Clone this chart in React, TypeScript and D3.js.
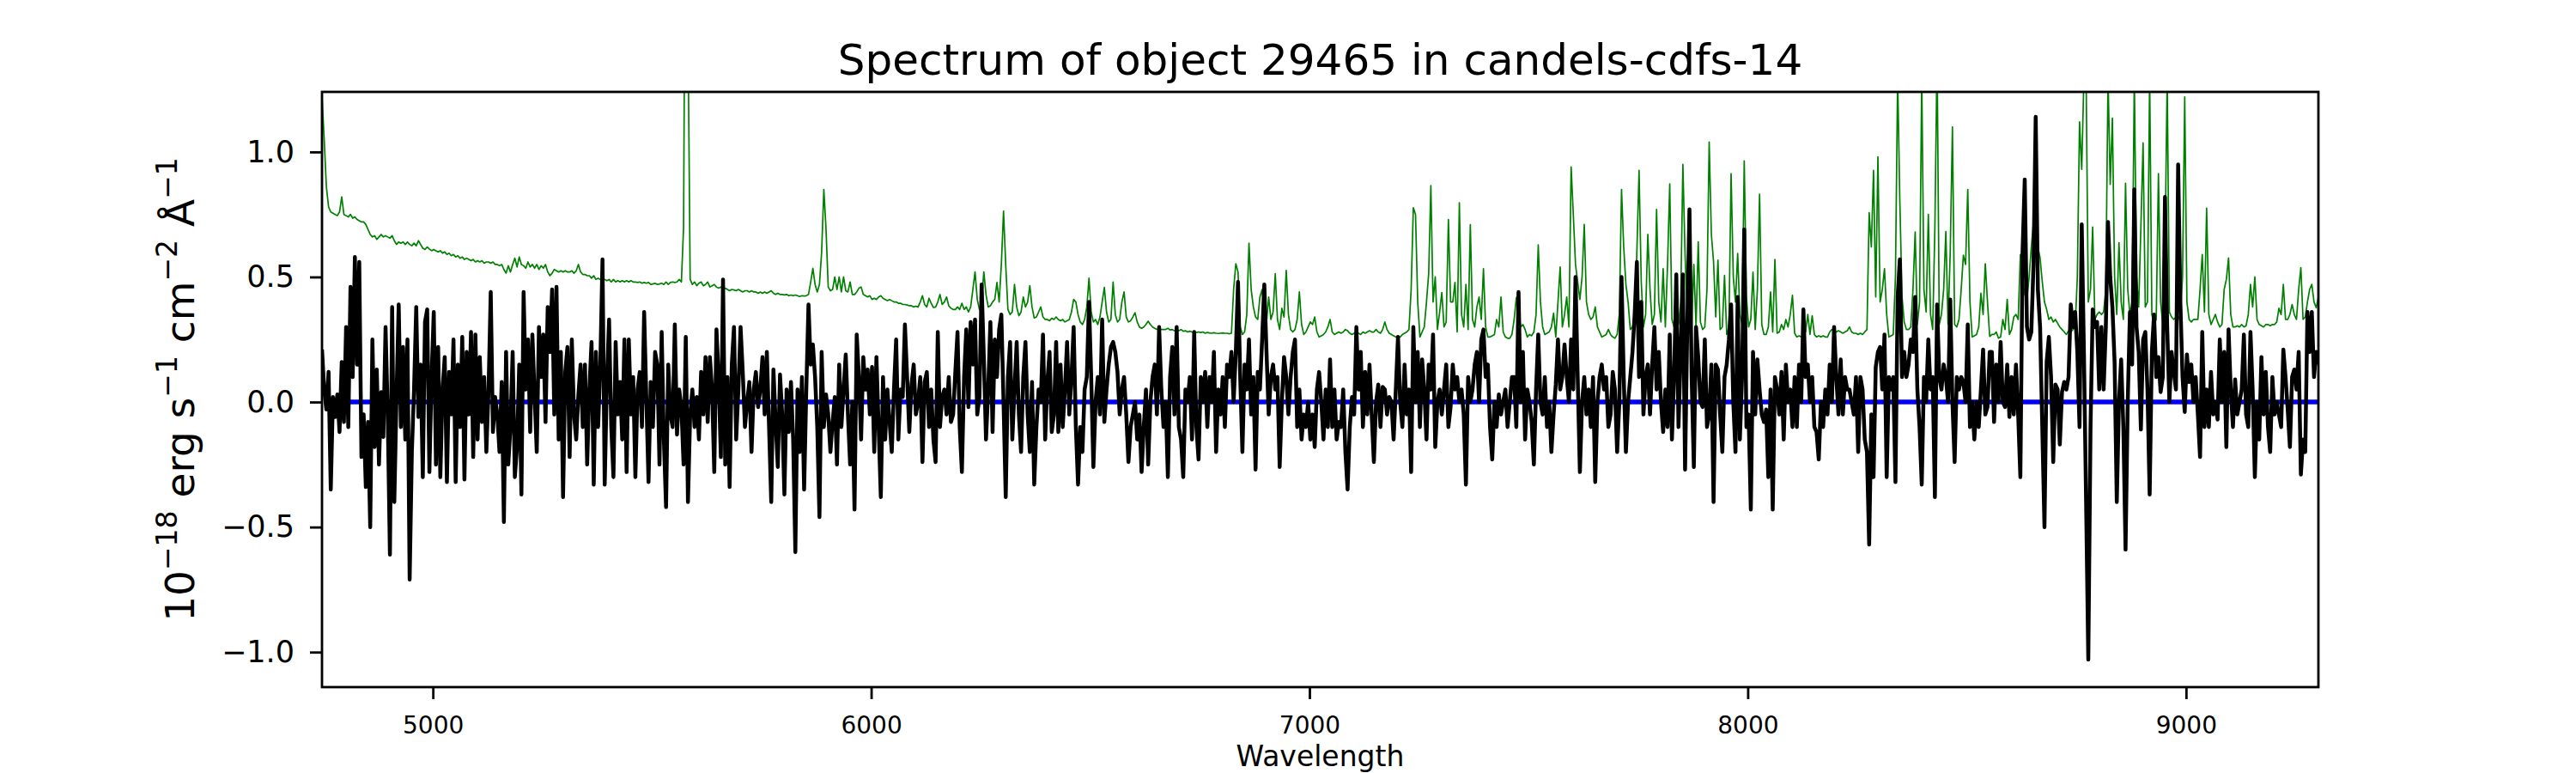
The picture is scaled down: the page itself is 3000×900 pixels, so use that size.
import React, { useEffect, useRef } from 'react';
import * as d3 from 'd3';

const TITLE = 'Spectrum of object 29465 in candels-cdfs-14';
const X_LABEL = 'Wavelength';

// spectra are stored in 100 A blocks, one value every 5 A
const WAVE_START = 4747;
const BLOCK_WIDTH = 100;
const WAVE_STEP = 5;

const xTicks = [5000, 6000, 7000, 8000, 9000];
const yTicks = [-1.0, -0.5, 0.0, 0.5, 1.0];
const xDomain = [4747, 9302];
const yDomain = [-1.14, 1.24];

// model (blue) spectrum: flat at zero
const modelWave = [4770, 9310];
const modelFlux = [0, 0];

// observed flux (black)
const fluxBlocks = [
  [0.21, 0.05, -0.03, 0.12, -0.35, 0.02, -0.06, 0.03, -0.12, 0.16, -0.08, 0.30, -0.10, 0.46, 0.10, 0.58, 0.15, 0.56, -0.22, -0.05],
  [-0.34, -0.08, -0.50, 0.25, -0.18, 0.13, -0.25, 0.04, -0.14, 0.30, -0.05, -0.61, 0.38, -0.40, 0.02, 0.39, -0.10, 0.22, -0.15, 0.25],
  [-0.71, -0.20, 0.05, 0.38, -0.06, 0.15, -0.30, 0.32, 0.37, -0.28, 0.10, 0.36, -0.25, 0.22, -0.30, 0.05, 0.18, -0.32, 0.12, -0.05],
  [0.25, -0.32, 0.15, -0.10, 0.26, -0.31, 0.20, -0.05, 0.28, -0.22, 0.27, -0.15, 0.18, -0.08, 0.10, -0.20, 0.05, 0.44, -0.12, 0.02],
  [-0.05, -0.20, 0.08, -0.48, 0.20, -0.25, -0.10, 0.20, -0.30, -0.18, 0.15, -0.37, 0.44, 0.05, 0.25, -0.12, 0.27, 0.03, -0.20, 0.30],
  [0.10, 0.27, -0.08, 0.38, 0.20, 0.45, -0.05, 0.46, -0.15, 0.20, -0.38, 0.12, 0.22, -0.22, 0.25, -0.05, -0.15, 0.03, 0.15, -0.10],
  [0.15, -0.25, 0.05, 0.24, -0.33, 0.20, -0.10, 0.15, 0.57, -0.33, 0.08, 0.33, -0.10, -0.30, 0.24, -0.05, 0.08, -0.15, 0.25, -0.28],
  [0.25, -0.05, 0.10, -0.30, 0.05, 0.12, -0.10, 0.36, 0.02, -0.32, 0.08, -0.10, 0.20, 0.15, -0.25, 0.28, -0.15, -0.42, 0.15, -0.05],
  [-0.10, 0.31, -0.13, 0.05, -0.02, -0.25, 0.26, -0.40, -0.05, 0.05, -0.10, 0.02, -0.15, 0.12, -0.05, 0.18, -0.08, 0.18, 0.05, -0.28],
  [0.29, 0.10, -0.22, 0.49, -0.25, 0.10, -0.34, 0.15, 0.30, -0.15, 0.05, 0.30, 0.12, -0.10, 0.00, 0.08, -0.20, 0.05, 0.12, -0.02],
  [0.05, 0.18, -0.05, 0.20, -0.10, -0.40, 0.13, -0.08, -0.26, 0.11, -0.05, -0.37, 0.05, -0.12, 0.08, -0.15, -0.60, 0.05, -0.20, 0.10],
  [-0.35, 0.05, 0.39, 0.15, 0.23, 0.10, -0.10, -0.46, 0.20, -0.10, 0.03, -0.05, -0.20, -0.08, 0.02, -0.25, 0.15, -0.10, 0.05, 0.19],
  [-0.05, -0.25, 0.00, -0.43, 0.27, 0.10, -0.15, 0.18, 0.05, 0.13, -0.05, 0.14, -0.20, 0.18, -0.10, -0.38, 0.10, -0.15, 0.05, -0.08],
  [-0.20, 0.05, 0.25, -0.15, 0.05, 0.02, 0.31, 0.10, -0.12, 0.07, 0.15, -0.05, 0.00, 0.10, -0.24, 0.08, 0.12, -0.10, 0.05, -0.15],
  [-0.24, 0.28, -0.10, 0.02, 0.05, -0.05, 0.10, -0.08, -0.05, 0.12, 0.28, -0.10, -0.28, 0.10, 0.29, -0.02, 0.32, 0.15, 0.33, -0.05],
  [0.02, 0.47, 0.18, -0.15, 0.05, 0.32, -0.12, 0.25, 0.10, 0.29, 0.35, 0.00, -0.38, 0.10, 0.24, -0.15, 0.05, 0.24, -0.05, -0.20],
  [0.10, 0.24, -0.05, -0.20, 0.08, -0.33, -0.10, 0.05, 0.00, 0.27, -0.15, 0.08, 0.20, -0.12, -0.05, 0.24, -0.12, 0.15, -0.10, 0.05],
  [0.24, -0.05, 0.10, 0.30, -0.10, -0.33, -0.10, -0.20, 0.05, 0.10, 0.40, 0.10, -0.26, 0.00, 0.10, -0.05, 0.33, -0.08, 0.05, 0.15],
  [0.22, 0.24, 0.20, 0.12, -0.05, 0.05, 0.10, -0.05, -0.24, -0.10, -0.05, 0.00, -0.15, -0.05, -0.28, -0.10, 0.05, -0.25, 0.00, 0.10],
  [0.15, -0.05, 0.30, 0.05, -0.10, 0.00, -0.30, 0.10, 0.22, -0.05, 0.30, -0.10, -0.15, -0.30, 0.05, 0.00, 0.10, -0.15, 0.28, -0.10],
  [-0.23, 0.10, 0.00, 0.12, -0.10, 0.10, 0.00, 0.20, -0.20, 0.05, -0.05, 0.10, -0.10, 0.15, 0.10, 0.20, 0.00, 0.20, 0.48, 0.10],
  [-0.20, 0.15, 0.05, 0.25, -0.05, 0.10, -0.27, 0.12, 0.05, 0.25, 0.47, 0.20, -0.05, 0.10, 0.15, 0.05, 0.10, -0.26, 0.00, 0.18],
  [0.10, -0.05, 0.10, 0.20, 0.25, -0.10, 0.05, -0.15, -0.05, -0.10, 0.00, -0.15, -0.05, -0.18, 0.05, 0.12, 0.00, -0.15, 0.05, -0.10],
  [0.17, -0.10, 0.05, -0.15, -0.08, -0.10, 0.05, -0.20, -0.35, -0.10, 0.02, -0.05, 0.30, 0.05, 0.20, -0.10, 0.12, -0.05, 0.15, -0.05],
  [-0.24, 0.00, 0.07, -0.10, 0.06, 0.05, -0.05, 0.02, 0.00, -0.15, 0.05, 0.26, 0.00, -0.10, 0.15, -0.05, 0.05, -0.28, 0.30, 0.00],
  [0.20, -0.10, 0.17, 0.05, -0.15, 0.15, 0.05, 0.27, -0.18, 0.00, 0.05, -0.05, 0.05, 0.15, -0.10, -0.02, 0.15, 0.05, 0.10, 0.00],
  [0.05, -0.05, -0.33, 0.10, 0.00, 0.05, 0.15, 0.20, 0.00, 0.25, 0.29, 0.10, 0.15, -0.10, -0.23, 0.00, -0.10, 0.03, -0.05, 0.00],
  [0.05, -0.10, 0.00, 0.10, 0.10, -0.10, 0.44, 0.00, 0.20, -0.15, 0.05, 0.00, -0.08, -0.25, 0.05, 0.27, 0.00, -0.05, 0.10, -0.10],
  [0.00, -0.20, -0.05, 0.07, 0.25, 0.05, 0.10, 0.23, 0.10, 0.00, 0.25, 0.05, 0.50, 0.10, -0.28, 0.00, 0.10, -0.05, 0.05, -0.10],
  [0.10, -0.32, 0.00, 0.10, 0.15, 0.05, 0.10, -0.10, -0.05, 0.12, 0.05, -0.20, 0.00, 0.50, 0.10, -0.20, 0.00, 0.10, 0.20, 0.35],
  [0.56, 0.10, 0.40, -0.05, 0.10, 0.15, -0.05, 0.15, 0.30, 0.05, 0.20, 0.00, -0.12, 0.05, -0.10, 0.27, -0.15, 0.10, 0.51, -0.10],
  [0.20, 0.51, -0.27, 0.30, 0.77, 0.10, -0.26, 0.30, 0.18, 0.00, -0.02, 0.25, -0.10, -0.05, 0.15, -0.40, 0.15, 0.13, -0.05, -0.20],
  [0.10, 0.15, 0.25, 0.39, 0.00, -0.20, 0.42, -0.15, 0.10, 0.69, -0.10, -0.05, -0.43, 0.20, -0.05, 0.17, 0.05, -0.05, -0.08, -0.03],
  [-0.30, 0.05, -0.43, 0.10, 0.05, -0.05, 0.12, -0.15, 0.15, 0.00, 0.05, -0.10, 0.10, -0.10, 0.15, 0.00, 0.37, 0.10, 0.15, 0.00],
  [0.10, -0.10, -0.12, -0.23, 0.00, -0.10, 0.05, -0.05, 0.15, 0.00, 0.30, 0.10, -0.05, 0.17, -0.05, 0.10, 0.05, 0.05, 0.00, -0.05],
  [0.10, -0.20, 0.10, 0.05, -0.15, -0.20, -0.57, -0.05, -0.30, 0.14, 0.20, 0.22, 0.05, 0.27, -0.30, 0.10, 0.05, 0.10, -0.32, 0.42],
  [0.57, 0.10, 0.20, 0.10, 0.15, 0.25, 0.20, 0.42, 0.05, -0.10, -0.33, 0.10, 0.00, 0.25, 0.05, 0.10, -0.38, 0.39, 0.10, 0.05],
  [0.15, 0.10, 0.00, 0.41, 0.00, -0.24, 0.10, 0.05, 0.10, 0.08, 0.00, 0.31, -0.10, 0.00, -0.15, 0.00, -0.10, 0.05, 0.21, -0.05],
  [-0.02, 0.20, 0.20, -0.08, 0.15, 0.00, 0.24, 0.00, -0.02, 0.15, -0.06, 0.10, -0.05, 0.15, -0.05, -0.30, 0.60, 0.89, 0.30, 0.25],
  [0.28, 0.55, 1.14, 0.45, 0.30, -0.10, -0.50, 0.16, 0.26, 0.10, -0.24, 0.07, 0.05, -0.17, 0.04, 0.08, 0.05, 0.10, 0.39, 0.30],
  [0.36, 0.20, -0.10, 0.71, 0.20, -0.40, -1.03, -0.11, 0.37, 0.30, 0.32, 0.05, 0.30, 0.05, 0.30, 0.72, 0.50, 0.38, 0.16, -0.40],
  [0.00, 0.17, -0.10, -0.59, 0.00, 0.36, 0.15, 0.85, 0.30, 0.20, -0.11, 0.25, 0.28, 0.05, -0.37, 0.20, 0.35, 0.10, 0.18, 0.04],
  [0.10, 0.82, 0.30, 0.00, 0.20, 0.12, 0.05, 0.95, 0.40, 0.10, -0.04, 0.19, 0.08, 0.15, 0.00, 0.10, -0.05, -0.22, 0.28, -0.10],
  [0.05, -0.10, 0.12, -0.05, 0.00, -0.07, 0.25, 0.00, 0.20, -0.18, 0.29, 0.05, -0.10, 0.09, -0.05, 0.00, 0.05, 0.27, -0.05, -0.10],
  [0.28, 0.05, -0.30, 0.00, -0.15, 0.18, -0.05, 0.12, -0.10, -0.20, 0.10, -0.05, 0.00, -0.05, -0.10, 0.21, 0.10, -0.03, -0.18, 0.10],
  [0.13, 0.05, 0.20, -0.29, -0.15, -0.20, 0.36, 0.20, 0.36, 0.10, 0.20, 0.15],
];

// noise spectrum (green), with sky lines
const noiseBlocks = [
  [1.22, 1.05, 0.86, 0.78, 0.76, 0.755, 0.75, 0.745, 0.76, 0.82, 0.75, 0.745, 0.74, 0.75, 0.735, 0.74, 0.73, 0.725, 0.72, 0.72],
  [0.71, 0.69, 0.67, 0.66, 0.665, 0.65, 0.66, 0.67, 0.66, 0.665, 0.66, 0.655, 0.665, 0.645, 0.63, 0.64, 0.635, 0.64, 0.63, 0.64],
  [0.63, 0.625, 0.635, 0.625, 0.645, 0.63, 0.615, 0.61, 0.62, 0.612, 0.605, 0.61, 0.605, 0.60, 0.605, 0.595, 0.60, 0.59, 0.595, 0.585],
  [0.59, 0.58, 0.585, 0.575, 0.58, 0.57, 0.575, 0.57, 0.565, 0.57, 0.56, 0.565, 0.56, 0.565, 0.555, 0.56, 0.56, 0.555, 0.56, 0.55],
  [0.55, 0.545, 0.55, 0.53, 0.515, 0.545, 0.52, 0.55, 0.575, 0.54, 0.58, 0.55, 0.545, 0.535, 0.56, 0.54, 0.55, 0.535, 0.55, 0.53],
  [0.545, 0.535, 0.55, 0.52, 0.505, 0.515, 0.53, 0.525, 0.52, 0.525, 0.52, 0.525, 0.52, 0.52, 0.525, 0.515, 0.525, 0.55, 0.52, 0.51],
  [0.51, 0.505, 0.505, 0.495, 0.505, 0.49, 0.495, 0.49, 0.485, 0.49, 0.485, 0.49, 0.48, 0.49, 0.48, 0.485, 0.48, 0.485, 0.48, 0.485],
  [0.48, 0.485, 0.48, 0.48, 0.478, 0.48, 0.475, 0.478, 0.475, 0.478, 0.47, 0.472, 0.475, 0.47, 0.472, 0.475, 0.47, 0.48, 0.47, 0.478],
  [0.48, 0.478, 0.48, 0.49, 0.48, 0.70, 2.50, 1.50, 0.49, 0.47, 0.48, 0.465, 0.475, 0.48, 0.465, 0.47, 0.48, 0.46, 0.465, 0.47],
  [0.46, 0.455, 0.46, 0.45, 0.455, 0.45, 0.445, 0.45, 0.448, 0.445, 0.45, 0.445, 0.44, 0.445, 0.445, 0.44, 0.445, 0.44, 0.44, 0.435],
  [0.44, 0.435, 0.44, 0.435, 0.44, 0.445, 0.435, 0.43, 0.435, 0.43, 0.43, 0.428, 0.43, 0.425, 0.428, 0.425, 0.428, 0.425, 0.422, 0.425],
  [0.424, 0.425, 0.43, 0.48, 0.535, 0.47, 0.44, 0.47, 0.60, 0.85, 0.69, 0.46, 0.445, 0.45, 0.50, 0.45, 0.50, 0.44, 0.50, 0.445],
  [0.44, 0.48, 0.43, 0.43, 0.44, 0.455, 0.46, 0.43, 0.425, 0.42, 0.425, 0.41, 0.415, 0.41, 0.42, 0.425, 0.415, 0.41, 0.405, 0.41],
  [0.405, 0.40, 0.40, 0.395, 0.395, 0.39, 0.39, 0.388, 0.385, 0.385, 0.38, 0.383, 0.38, 0.40, 0.425, 0.39, 0.38, 0.415, 0.395, 0.378],
  [0.38, 0.40, 0.43, 0.39, 0.40, 0.42, 0.385, 0.375, 0.37, 0.37, 0.38, 0.37, 0.395, 0.37, 0.38, 0.36, 0.38, 0.45, 0.52, 0.41],
  [0.37, 0.40, 0.52, 0.43, 0.38, 0.385, 0.40, 0.41, 0.478, 0.40, 0.55, 0.763, 0.547, 0.37, 0.35, 0.36, 0.47, 0.38, 0.345, 0.36],
  [0.42, 0.38, 0.40, 0.465, 0.38, 0.336, 0.34, 0.36, 0.38, 0.34, 0.33, 0.33, 0.325, 0.335, 0.33, 0.34, 0.33, 0.325, 0.33, 0.32],
  [0.325, 0.33, 0.36, 0.41, 0.40, 0.35, 0.32, 0.31, 0.33, 0.38, 0.495, 0.36, 0.32, 0.33, 0.31, 0.34, 0.40, 0.458, 0.36, 0.32],
  [0.33, 0.48, 0.35, 0.32, 0.33, 0.40, 0.44, 0.34, 0.32, 0.325, 0.34, 0.357, 0.32, 0.30, 0.295, 0.30, 0.31, 0.323, 0.31, 0.30],
  [0.295, 0.29, 0.295, 0.29, 0.29, 0.29, 0.295, 0.288, 0.29, 0.285, 0.288, 0.285, 0.29, 0.283, 0.285, 0.28, 0.283, 0.28, 0.28, 0.278],
  [0.28, 0.278, 0.28, 0.275, 0.278, 0.276, 0.275, 0.277, 0.275, 0.274, 0.275, 0.276, 0.275, 0.275, 0.273, 0.275, 0.45, 0.553, 0.52, 0.30],
  [0.27, 0.28, 0.35, 0.635, 0.45, 0.38, 0.34, 0.33, 0.42, 0.45, 0.34, 0.32, 0.42, 0.33, 0.36, 0.513, 0.33, 0.29, 0.375, 0.34],
  [0.526, 0.35, 0.29, 0.28, 0.29, 0.33, 0.44, 0.31, 0.27, 0.28, 0.30, 0.32, 0.31, 0.34, 0.28, 0.26, 0.265, 0.27, 0.28, 0.30],
  [0.33, 0.28, 0.27, 0.275, 0.28, 0.275, 0.28, 0.29, 0.285, 0.275, 0.27, 0.275, 0.28, 0.275, 0.27, 0.28, 0.275, 0.28, 0.285, 0.28],
  [0.28, 0.29, 0.28, 0.275, 0.29, 0.32, 0.29, 0.275, 0.27, 0.265, 0.26, 0.255, 0.26, 0.27, 0.275, 0.28, 0.29, 0.45, 0.777, 0.75],
  [0.40, 0.26, 0.28, 0.30, 0.40, 0.513, 0.865, 0.40, 0.50, 0.29, 0.36, 0.438, 0.30, 0.32, 0.73, 0.40, 0.40, 0.478, 0.28, 0.797],
  [0.35, 0.30, 0.47, 0.29, 0.709, 0.33, 0.30, 0.38, 0.42, 0.33, 0.533, 0.30, 0.26, 0.26, 0.265, 0.27, 0.33, 0.30, 0.42, 0.28],
  [0.26, 0.255, 0.255, 0.27, 0.33, 0.418, 0.36, 0.30, 0.31, 0.29, 0.26, 0.27, 0.265, 0.28, 0.35, 0.628, 0.40, 0.30, 0.27, 0.275],
  [0.28, 0.30, 0.355, 0.26, 0.40, 0.54, 0.30, 0.35, 0.42, 0.30, 0.94, 0.75, 0.55, 0.48, 0.41, 0.50, 0.71, 0.40, 0.35, 0.33],
  [0.34, 0.38, 0.30, 0.28, 0.26, 0.265, 0.27, 0.29, 0.27, 0.26, 0.255, 0.27, 0.35, 0.85, 0.62, 0.47, 0.40, 0.29, 0.30, 0.34],
  [0.60, 0.926, 0.48, 0.30, 0.35, 0.67, 0.45, 0.31, 0.35, 0.77, 0.40, 0.32, 0.533, 0.30, 0.55, 0.872, 0.33, 0.30, 0.506, 0.31],
  [0.40, 0.95, 0.587, 0.35, 0.31, 0.30, 0.55, 0.30, 0.64, 0.32, 0.29, 0.30, 0.45, 1.04, 0.67, 0.56, 0.34, 0.567, 0.29, 0.30],
  [0.506, 0.27, 0.30, 0.913, 0.50, 0.40, 0.594, 0.35, 0.31, 0.964, 0.42, 0.30, 0.33, 0.519, 0.29, 0.45, 0.831, 0.31, 0.27, 0.27],
  [0.30, 0.44, 0.28, 0.57, 0.275, 0.28, 0.31, 0.29, 0.33, 0.30, 0.35, 0.427, 0.275, 0.26, 0.265, 0.26, 0.27, 0.28, 0.35, 0.27],
  [0.345, 0.27, 0.26, 0.265, 0.26, 0.265, 0.26, 0.26, 0.28, 0.29, 0.285, 0.28, 0.285, 0.28, 0.275, 0.28, 0.285, 0.30, 0.28, 0.275],
  [0.275, 0.27, 0.275, 0.27, 0.28, 0.29, 0.757, 0.62, 0.926, 0.42, 0.98, 0.40, 0.45, 0.533, 0.35, 0.26, 0.265, 0.27, 0.50, 1.30],
  [0.804, 0.42, 0.32, 0.29, 0.29, 0.30, 0.45, 0.68, 0.31, 0.40, 1.30, 0.45, 0.36, 0.75, 0.35, 0.29, 0.70, 1.40, 0.31, 0.35],
  [0.45, 0.682, 0.31, 0.60, 1.10, 0.31, 0.30, 0.33, 0.45, 0.587, 0.55, 0.85, 0.40, 0.26, 0.265, 0.27, 0.30, 0.435, 0.35, 0.553],
  [0.40, 0.262, 0.27, 0.27, 0.28, 0.255, 0.26, 0.33, 0.29, 0.41, 0.27, 0.29, 0.34, 0.35, 0.33, 0.59, 0.50, 0.43, 0.41, 0.50],
  [0.62, 0.72, 0.66, 0.62, 0.576, 0.48, 0.40, 0.37, 0.33, 0.34, 0.32, 0.33, 0.315, 0.30, 0.29, 0.28, 0.27, 0.285, 0.28, 0.29],
  [0.30, 0.50, 1.12, 0.93, 1.30, 1.30, 0.40, 0.45, 0.70, 0.33, 0.35, 0.36, 0.35, 0.36, 0.45, 1.30, 0.87, 1.135, 0.50, 0.35],
  [0.637, 0.40, 0.33, 0.875, 0.45, 0.35, 0.40, 1.30, 0.50, 0.38, 0.70, 1.036, 0.38, 0.40, 1.30, 0.35, 0.31, 0.33, 0.913, 0.40],
  [0.31, 0.60, 1.30, 0.36, 0.34, 0.33, 0.34, 0.33, 0.35, 0.50, 1.22, 0.40, 0.33, 0.32, 0.33, 0.33, 0.33, 0.45, 0.59, 0.36],
  [0.775, 0.35, 0.31, 0.33, 0.35, 0.32, 0.30, 0.31, 0.45, 0.49, 0.576, 0.35, 0.30, 0.30, 0.305, 0.30, 0.31, 0.30, 0.305, 0.35],
  [0.47, 0.38, 0.50, 0.33, 0.31, 0.305, 0.30, 0.31, 0.31, 0.305, 0.31, 0.31, 0.32, 0.375, 0.35, 0.47, 0.33, 0.33, 0.35, 0.39],
  [0.35, 0.33, 0.45, 0.537, 0.33, 0.34, 0.40, 0.45, 0.47, 0.40, 0.377, 0.42],
];

const toPoints = (blocks: number[][]) =>
  blocks.flatMap((row, b) =>
    row.map((v, j) => [WAVE_START + b * BLOCK_WIDTH + j * WAVE_STEP, v] as [number, number])
  );

const FONT = '"DejaVu Sans", sans-serif';

const SpectrumChart = () => {
  const svgRef = useRef<SVGSVGElement>(null);
  const totalWidth = 3000;
  const totalHeight = 900;
  const margin = { top: 107, right: 300, bottom: 100, left: 375 };
  const width = totalWidth - margin.left - margin.right;
  const height = totalHeight - margin.top - margin.bottom;

  useEffect(() => {
    d3.select(svgRef.current).selectAll('*').remove();
    const svg = d3.select(svgRef.current)
      .attr('width', totalWidth)
      .attr('height', totalHeight);

    const g = svg.append('g')
      .attr('transform', `translate(${margin.left},${margin.top})`);

    const x = d3.scaleLinear().domain(xDomain).range([0, width]);
    const y = d3.scaleLinear().domain(yDomain).range([height, 0]);

    g.append('clipPath')
      .attr('id', 'plot-clip')
      .append('rect')
      .attr('width', width)
      .attr('height', height);

    const line = d3.line<[number, number]>()
      .x(d => x(d[0]))
      .y(d => y(d[1]));

    const plot = g.append('g').attr('clip-path', 'url(#plot-clip)');

    plot.append('path')
      .datum(toPoints(noiseBlocks))
      .attr('d', line)
      .attr('fill', 'none')
      .attr('stroke', '#008000')
      .attr('stroke-width', 1.7)
      .attr('stroke-linejoin', 'round');

    plot.append('path')
      .datum(modelWave.map((w, i) => [w, modelFlux[i]] as [number, number]))
      .attr('d', line)
      .attr('fill', 'none')
      .attr('stroke', '#0000ff')
      .attr('stroke-width', 5.5);

    plot.append('path')
      .datum(toPoints(fluxBlocks))
      .attr('d', line)
      .attr('fill', 'none')
      .attr('stroke', '#000000')
      .attr('stroke-width', 4.5)
      .attr('stroke-linejoin', 'round');

    // x axis
    const xAxis = g.append('g')
      .attr('transform', `translate(0,${height})`)
      .call(d3.axisBottom(x).tickValues(xTicks).tickSize(14).tickPadding(20).tickSizeOuter(0).tickFormat(d3.format('d')));
    xAxis.select('.domain').remove();
    xAxis.selectAll('line').attr('stroke-width', 2.8);
    xAxis.selectAll('text').attr('font-size', 28).attr('font-family', FONT).attr('fill', '#000');

    // y axis
    const yAxis = g.append('g')
      .call(d3.axisLeft(y).tickValues(yTicks).tickSize(14).tickPadding(18).tickSizeOuter(0).tickFormat(d3.format('.1f')));
    yAxis.select('.domain').remove();
    yAxis.selectAll('line').attr('stroke-width', 2.8);
    yAxis.selectAll('text').attr('font-size', 35).attr('font-family', FONT).attr('fill', '#000');

    // frame
    g.append('rect')
      .attr('width', width)
      .attr('height', height)
      .attr('fill', 'none')
      .attr('stroke', '#000')
      .attr('stroke-width', 2.8);

    // title
    svg.append('text')
      .attr('x', margin.left + width / 2)
      .attr('y', 87)
      .attr('text-anchor', 'middle')
      .attr('font-family', FONT)
      .attr('font-size', 50)
      .text(TITLE);

    // x label
    svg.append('text')
      .attr('x', margin.left + width / 2)
      .attr('y', 892)
      .attr('text-anchor', 'middle')
      .attr('font-family', FONT)
      .attr('font-size', 33)
      .text(X_LABEL);

    // y label with superscripts
    const yl = svg.append('text')
      .attr('transform', `translate(226,${margin.top + height / 2}) rotate(-90)`)
      .attr('text-anchor', 'middle')
      .attr('font-family', FONT)
      .attr('font-size', 47);
    const parts: [string, boolean][] = [
      ['10', false], ['\u221218', true], [' erg s', false], ['\u22121', true],
      [' cm', false], ['\u22122', true], [' \u00c5', false], ['\u22121', true],
    ];
    const shift = 20;
    parts.forEach(([t, sup], i) => {
      const span = yl.append('tspan').text(t);
      if (sup) span.attr('dy', -shift).attr('font-size', 33);
      else if (i > 0) span.attr('dy', shift);
    });
  }, []);

  return <svg ref={svgRef} style={{ position: 'absolute', left: 0, top: 0, background: '#fff' }} />;
};

export default function App() {
  return <SpectrumChart />;
}
